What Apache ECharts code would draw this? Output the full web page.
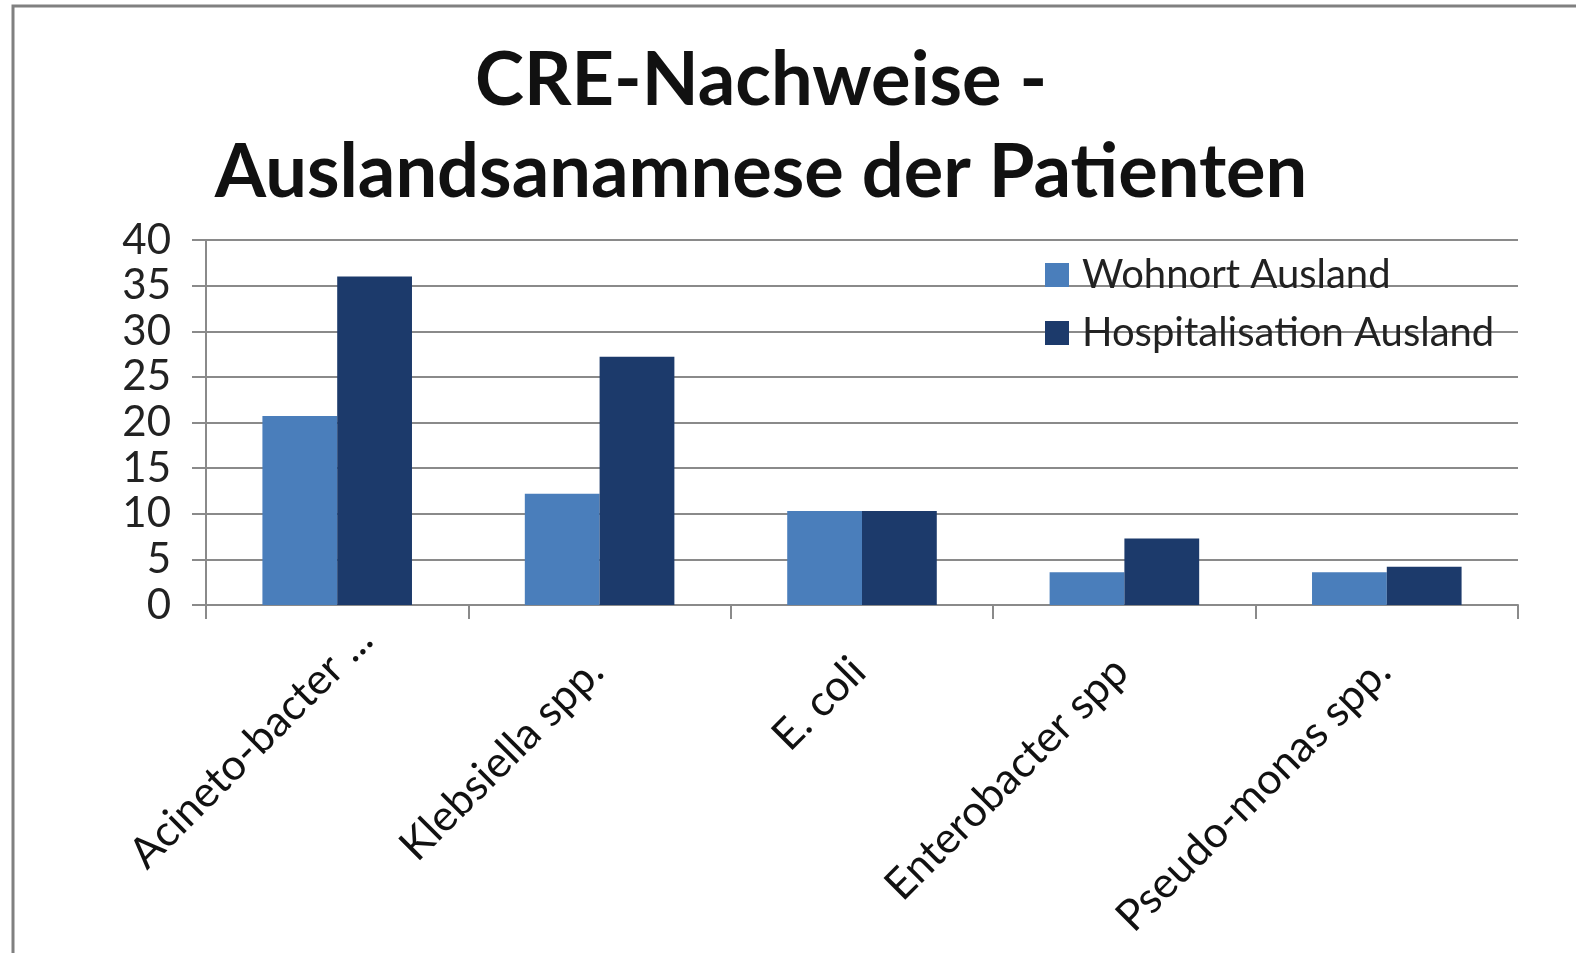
<!DOCTYPE html>
<html>
<head>
<meta charset="utf-8">
<script src="https://cdn.jsdelivr.net/npm/echarts@6/dist/echarts.min.js"></script>
<style>
	html, body { margin: 0; padding: 0; background: #fff; }
	#chart { width: 1576px; height: 953px; }
</style>
</head>
<body>
<div id="chart"></div>
<script>
const categories = ['Acineto-bacter ...', 'Klebsiella spp.', 'E. coli', 'Enterobacter spp', 'Pseudo-monas spp.'];
const wohnort = [20.7, 12.2, 10.3, 3.6, 3.6];
const hospitalisation = [36, 27.2, 10.3, 7.3, 4.2];
const yTicks = [0, 5, 10, 15, 20, 25, 30, 35, 40];

var chart = echarts.init(document.getElementById('chart'));

const gridColor = '#8a8a8a';
const fontFam = 'Lato, "Open Sans", sans-serif';

// the truncated first label sits further up the diagonal than the rest
let xData = categories.map((name, i) => ({
	value: name,
	textStyle: { padding: i == 0 ? [0, -40, 0, 0] : [0, 5, 0, 0] }
}));

var option = {
	backgroundColor: '#fff',
	animation: false,
	title: {
		text: 'CRE-Nachweise -\nAuslandsanamnese der Patienten',
		left: 756,
		textAlign: 'center',
		top: 30,
		textStyle: {
			fontFamily: fontFam,
			fontWeight: 'bold',
			fontSize: 74,
			lineHeight: 92,
			color: '#111'
		}
	},
	graphic: [
		{
			// only the top and left edges of the frame show
			type: 'rect',
			shape: { x: 13, y: 6, width: 1700, height: 1100 },
			style: { fill: 'none', stroke: '#808080', lineWidth: 3 }
		}
	],
	legend: {
		orient: 'vertical',
		left: 1040,
		top: 250,
		itemWidth: 24,
		itemHeight: 24,
		itemGap: 18,
		icon: 'rect',
		textStyle: {
			fontFamily: fontFam,
			fontSize: 40,
			color: '#222',
			padding: [0, 0, 0, 8]
		}
	},
	grid: {
		left: 206,
		right: 58,
		top: 240,
		bottom: 348
	},
	xAxis: {
		type: 'category',
		data: xData,
		axisLine: { lineStyle: { color: gridColor, width: 2 } },
		axisTick: { show: true, length: 14, lineStyle: { color: gridColor, width: 2 } },
		axisLabel: {
			rotate: 45,
			interval: 0,
			margin: 56,
			verticalAlign: 'top',
			fontFamily: fontFam,
			fontSize: 43,
			color: '#111'
		}
	},
	yAxis: {
		type: 'value',
		min: yTicks[0],
		max: yTicks[yTicks.length - 1],
		interval: 5,
		axisLine: { show: true, lineStyle: { color: gridColor, width: 2 } },
		axisTick: { show: true, length: 14, lineStyle: { color: gridColor, width: 2 } },
		splitLine: { lineStyle: { color: gridColor, width: 2 } },
		axisLabel: {
			margin: 35,
			fontFamily: fontFam,
			fontSize: 42,
			color: '#222'
		}
	},
	series: [
		{
			name: 'Wohnort Ausland',
			type: 'bar',
			data: wohnort,
			barGap: '0%',
			barCategoryGap: '43%',
			itemStyle: { color: '#4a7ebb' }
		},
		{
			name: 'Hospitalisation Ausland',
			type: 'bar',
			data: hospitalisation,
			itemStyle: { color: '#1c3a6b' }
		}
	]
};

chart.setOption(option);
</script>
</body>
</html>
